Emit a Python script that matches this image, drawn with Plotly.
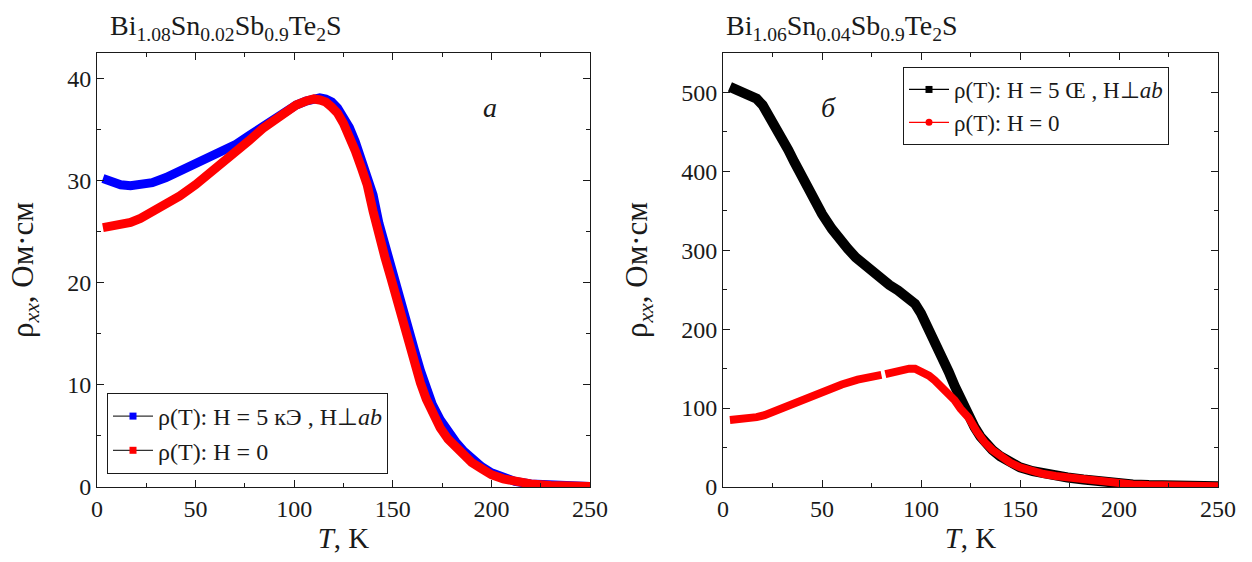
import plotly.graph_objects as go

# ---------------- data: panel a (Bi1.08Sn0.02Sb0.9Te2S) ----------------
T_a = [3, 8, 12, 17, 22, 28, 35, 42, 50, 58, 64, 70, 77, 84, 90, 96, 101, 106, 110,
       113, 116, 119, 122, 125, 128, 131, 134, 137, 140, 143, 146, 149, 152, 155, 158,
       161, 164, 167, 170, 174, 178, 182, 186, 190, 195, 200, 206, 212, 220, 230, 240, 250]
rho_a_H5 = [30.2, 29.8, 29.6, 29.5, 29.55, 29.8, 30.3, 30.9, 31.6, 32.3, 32.8, 33.5, 34.4,
            35.3, 36.1, 36.9, 37.4, 37.8, 38.0, 38.1, 38.0, 37.7, 37.1, 36.3, 35.2, 33.8,
            32.2, 30.6, 28.6, 25.8, 23.6, 21.8, 19.6, 17.5, 15.4, 13.4, 11.4, 9.6, 8.1,
            6.6, 5.3, 4.4, 3.5, 2.8, 2.0, 1.4, 0.9, 0.55, 0.3, 0.15, 0.08, 0.05]
rho_a_H0 = [25.4, 25.5, 25.7, 25.9, 26.3, 26.9, 27.6, 28.5, 29.6, 30.8, 31.8, 32.8, 33.9,
            35.1, 36.0, 36.8, 37.4, 37.8, 38.0, 37.9, 37.7, 37.2, 36.6, 35.6, 34.4, 32.9,
            31.3, 29.6, 27.0, 24.3, 22.5, 20.5, 18.3, 16.1, 14.0, 12.0, 10.2, 8.6, 7.2,
            5.8, 4.7, 3.9, 3.1, 2.4, 1.8, 1.2, 0.8, 0.5, 0.3, 0.15, 0.08, 0.05]

# ---------------- data: panel б (Bi1.06Sn0.04Sb0.9Te2S) ----------------
T_b_H5 = [3.5, 8, 12.6, 17, 20, 23, 26, 30, 33, 36, 40, 43, 46.5, 50, 55, 59, 63, 67, 72,
          76, 80, 84, 88.5, 93, 97, 100, 103.5, 107, 110.5, 114, 117, 120, 124, 127, 130,
          132, 136, 140, 145, 150, 156.5, 162, 168, 174, 182, 190, 198, 207, 215, 225, 235,
          241, 250]
rho_b_H5 = [507, 503, 498, 492, 484, 472, 458, 441, 427, 412, 393, 377, 361, 346, 327, 313,
            302, 291, 280, 271, 263, 256, 249, 241, 232, 220, 203, 186, 166, 146, 128, 111,
            91, 76, 64, 57, 47, 39, 31, 25, 20, 16.5, 14, 12, 9.5, 7, 5, 3.2, 2.4, 1.7, 1.2,
            1.0, 0.8]
T_b_H0 = [3.5, 8, 12, 17, 21, 28, 35, 43, 51.5, 60, 68, 75, 80, 81.3, 82, 86, 90, 94, 97,
          100, 104, 107, 111, 115, 117, 120, 124, 128, 130, 132, 136, 140, 145, 150, 156.5,
          162, 168, 174, 182, 190, 198, 207, 215, 225, 235, 241, 250]
rho_b_H0 = [85, 85.5, 86.5, 88.5, 91, 98, 106, 115, 123, 130, 136, 140, 142, None, 143, 146,
            149, 150, 150, 147, 141, 135, 125, 116, 110, 99, 88, 71, 63, 57, 47, 39, 31, 25,
            20, 16.5, 14, 12, 9.5, 7, 5, 3.2, 2.4, 1.7, 1.2, 1.0, 0.8]

title_a = "Bi<sub>1.08</sub>Sn<sub>0.02</sub>Sb<sub>0.9</sub>Te<sub>2</sub>S"
title_b = "Bi<sub>1.06</sub>Sn<sub>0.04</sub>Sb<sub>0.9</sub>Te<sub>2</sub>S"
legend_a = ["ρ(T): H = 5 кЭ , H⊥<i>ab</i>", "ρ(T): H = 0"]
legend_b = ["ρ(T): H = 5 Œ , H⊥<i>ab</i>", "ρ(T): H = 0"]
ylabel = "ρ<sub><i>xx</i></sub>, Ом·см"
xlabel = "<i>T</i>, K"

FONT = "Liberation Serif"
INK = "#1a1a1a"

fig = go.Figure()

fig.add_trace(go.Scatter(x=T_a, y=rho_a_H5, mode="lines", line=dict(color="#0000ff", width=9),
                         xaxis="x", yaxis="y", showlegend=False))
fig.add_trace(go.Scatter(x=T_a, y=rho_a_H0, mode="lines", line=dict(color="#ff0000", width=9),
                         xaxis="x", yaxis="y", showlegend=False))
fig.add_trace(go.Scatter(x=[None], y=[None], mode="lines+markers", name=legend_a[0],
                         line=dict(color="#333333", width=1.2), marker=dict(color="#0000ff", symbol="square", size=7),
                         xaxis="x", yaxis="y", legend="legend"))
fig.add_trace(go.Scatter(x=[None], y=[None], mode="lines+markers", name=legend_a[1],
                         line=dict(color="#333333", width=1.2), marker=dict(color="#ff0000", symbol="square", size=7),
                         xaxis="x", yaxis="y", legend="legend"))

fig.add_trace(go.Scatter(x=T_b_H5, y=rho_b_H5, mode="lines", line=dict(color="#000000", width=10),
                         xaxis="x2", yaxis="y2", showlegend=False))
fig.add_trace(go.Scatter(x=T_b_H0, y=rho_b_H0, mode="lines", line=dict(color="#ff0000", width=8),
                         xaxis="x2", yaxis="y2", showlegend=False, connectgaps=False))
fig.add_trace(go.Scatter(x=[None], y=[None], mode="lines+markers", name=legend_b[0],
                         line=dict(color="#000000", width=1.2), marker=dict(color="#000000", symbol="square", size=7),
                         xaxis="x2", yaxis="y2", legend="legend2"))
fig.add_trace(go.Scatter(x=[None], y=[None], mode="lines+markers", name=legend_b[1],
                         line=dict(color="#ff0000", width=1.2), marker=dict(color="#ff0000", symbol="circle", size=7),
                         xaxis="x2", yaxis="y2", legend="legend2"))

W, H = 1252, 562
ydom = [(H - 487) / H, (H - 53) / H]

def xaxis(domain, anchor):
    return dict(domain=domain, anchor=anchor, range=[0, 250], dtick=50, tick0=0,
                ticks="inside", ticklen=7, tickwidth=1, tickcolor=INK,
                minor=dict(ticks="inside", ticklen=4, dtick=25, tickcolor=INK),
                showline=True, linecolor=INK, linewidth=1, mirror="ticks",
                showgrid=False, zeroline=False, automargin=False,
                tickfont=dict(family=FONT, size=24, color=INK),
                title=dict(text=xlabel, font=dict(family=FONT, size=29, color=INK), standoff=6))

def yaxis(domain, anchor, rng, dt):
    return dict(domain=domain, anchor=anchor, range=rng, dtick=dt, tick0=0,
                ticks="inside", ticklen=7, tickwidth=1, tickcolor=INK,
                minor=dict(ticks="inside", ticklen=4, dtick=dt / 2, tickcolor=INK),
                showline=True, linecolor=INK, linewidth=1, mirror="ticks",
                showgrid=False, zeroline=False, automargin=False,
                tickfont=dict(family=FONT, size=24, color=INK),
                title=dict(text=ylabel, font=dict(family=FONT, size=31, color=INK), standoff=24))

fig.update_layout(
    width=W, height=H, autosize=False,
    margin=dict(l=0, r=0, t=0, b=0),
    paper_bgcolor="white", plot_bgcolor="white",
    font=dict(family=FONT, color=INK),
    xaxis=xaxis([97 / W, 590 / W], "y"),
    yaxis=yaxis(ydom, "x", [0, 42.5], 10),
    xaxis2=xaxis([723 / W, 1218 / W], "y2"),
    yaxis2=yaxis(ydom, "x2", [0, 550], 100),
    legend=dict(x=107 / W, y=(H - 393) / H, xanchor="left", yanchor="top",
                bgcolor="white", bordercolor=INK, borderwidth=1,
                font=dict(family=FONT, size=24, color=INK), itemwidth=40, tracegroupgap=0),
    legend2=dict(x=903 / W, y=(H - 67) / H, xanchor="left", yanchor="top",
                 bgcolor="white", bordercolor=INK, borderwidth=1,
                 font=dict(family=FONT, size=23, color=INK), itemwidth=40, tracegroupgap=0),
    annotations=[
        dict(text=title_a, x=108 / W, y=(H - 27) / H, xref="paper", yref="paper",
             xanchor="left", yanchor="middle", showarrow=False,
             font=dict(family=FONT, size=28, color=INK)),
        dict(text=title_b, x=724 / W, y=(H - 27) / H, xref="paper", yref="paper",
             xanchor="left", yanchor="middle", showarrow=False,
             font=dict(family=FONT, size=28, color=INK)),
        dict(text="<i>a</i>", x=(490 - 97) / (590 - 97), y=(487 - 107) / (487 - 53),
             xref="x domain", yref="y domain", showarrow=False, xanchor="center", yanchor="middle",
             font=dict(family=FONT, size=28, color=INK)),
        dict(text="<i>б</i>", x=(828 - 723) / (1218 - 723), y=(487 - 107) / (487 - 53),
             xref="x2 domain", yref="y2 domain", showarrow=False, xanchor="center", yanchor="middle",
             font=dict(family=FONT, size=28, color=INK)),
    ],
)

fig.write_html("out.html")
